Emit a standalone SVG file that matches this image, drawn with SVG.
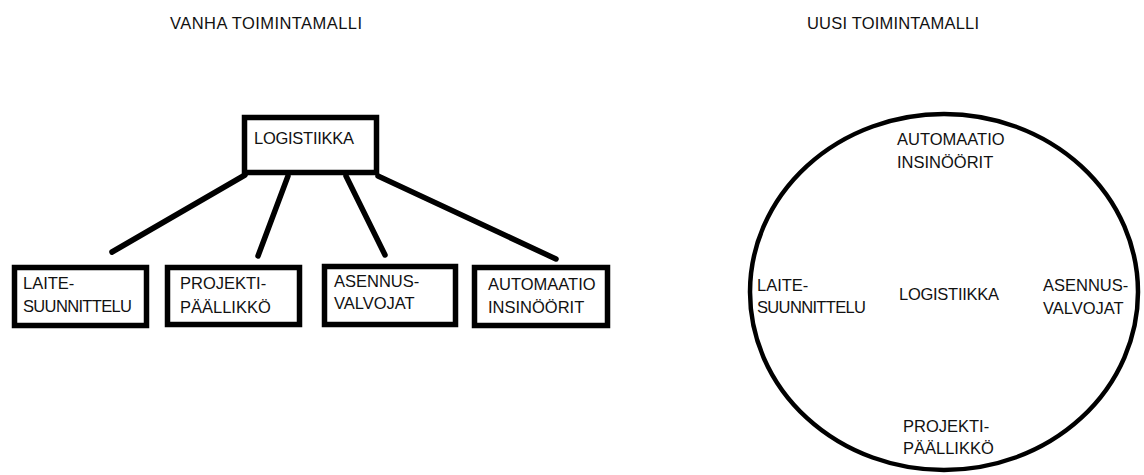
<svg xmlns="http://www.w3.org/2000/svg" width="1144" height="475" viewBox="0 0 1144 475">
  <style>
    .lbl { font-family: "Liberation Sans", Arial, sans-serif; font-size: 16.5px; fill: #111; }
    .box { fill: #fff; stroke: #000; stroke-width: 5.5; }
    .link { stroke: #000; stroke-width: 5.5; stroke-linecap: round; fill: none; }
  </style>
  <rect width="1144" height="475" fill="#fff"/>

  <!-- Titles -->
  <text class="lbl" x="170" y="29" textLength="192">VANHA TOIMINTAMALLI</text>
  <text class="lbl" x="807" y="29" textLength="172">UUSI TOIMINTAMALLI</text>

  <!-- Old model: hierarchy -->
  <g id="connectors">
    <line class="link" x1="245" y1="175" x2="112" y2="252"/>
    <line class="link" x1="288" y1="176" x2="258" y2="256"/>
    <line class="link" x1="346" y1="176" x2="385" y2="255"/>
    <line class="link" x1="378" y1="176" x2="556" y2="259"/>
  </g>

  <g id="old-logistiikka">
    <rect class="box" x="244.5" y="117.5" width="132" height="55"/>
    <text class="lbl" x="254" y="144" textLength="100">LOGISTIIKKA</text>
  </g>
  <g id="old-laitesuunnittelu">
    <rect class="box" x="14.5" y="267.5" width="132" height="58"/>
    <text class="lbl" x="23" y="289">LAITE-</text>
    <text class="lbl" x="23" y="312" textLength="109">SUUNNITTELU</text>
  </g>
  <g id="old-projektipaallikko">
    <rect class="box" x="167.5" y="267.5" width="132" height="57"/>
    <text class="lbl" x="180" y="289">PROJEKTI-</text>
    <text class="lbl" x="180" y="313">PÄÄLLIKKÖ</text>
  </g>
  <g id="old-asennusvalvojat">
    <rect class="box" x="324.5" y="266.5" width="131" height="58"/>
    <text class="lbl" x="334" y="287">ASENNUS-</text>
    <text class="lbl" x="334" y="309">VALVOJAT</text>
  </g>
  <g id="old-automaatioinsinoorit">
    <rect class="box" x="474.5" y="267.5" width="133" height="58"/>
    <text class="lbl" x="488" y="290">AUTOMAATIO</text>
    <text class="lbl" x="488" y="313">INSINÖÖRIT</text>
  </g>

  <!-- New model: circle -->
  <g id="new-circle">
    <ellipse cx="944" cy="292" rx="194" ry="178" fill="none" stroke="#000" stroke-width="4.5"/>
  </g>
  <g id="new-automaatioinsinoorit">
    <text class="lbl" x="897" y="145">AUTOMAATIO</text>
    <text class="lbl" x="897" y="168">INSINÖÖRIT</text>
  </g>
  <g id="new-laitesuunnittelu">
    <text class="lbl" x="757" y="291">LAITE-</text>
    <text class="lbl" x="757" y="313" textLength="109">SUUNNITTELU</text>
  </g>
  <g id="new-logistiikka">
    <text class="lbl" x="899" y="300" textLength="100">LOGISTIIKKA</text>
  </g>
  <g id="new-asennusvalvojat">
    <text class="lbl" x="1043" y="291">ASENNUS-</text>
    <text class="lbl" x="1043" y="314">VALVOJAT</text>
  </g>
  <g id="new-projektipaallikko">
    <text class="lbl" x="903" y="432">PROJEKTI-</text>
    <text class="lbl" x="903" y="454">PÄÄLLIKKÖ</text>
  </g>
</svg>
